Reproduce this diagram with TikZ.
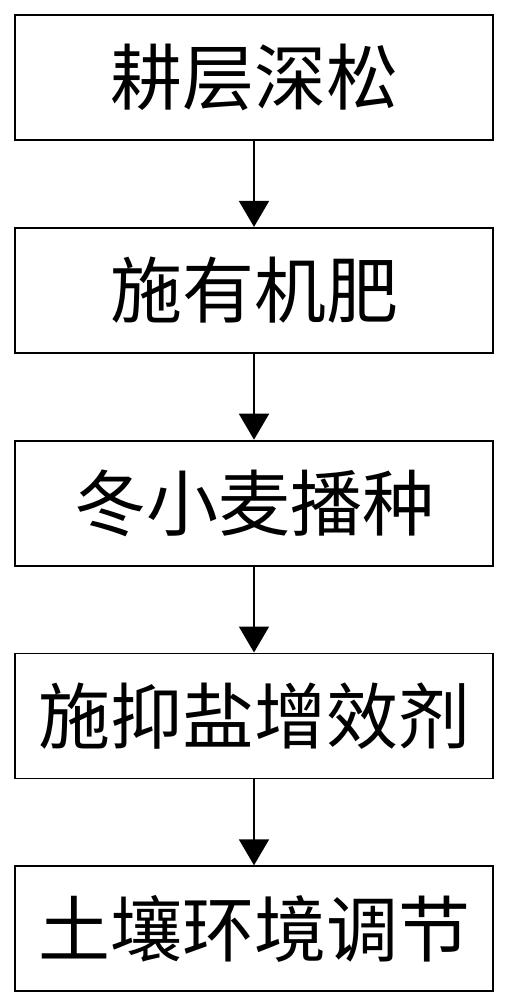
\documentclass[tikz,border=0pt]{standalone}
\usepackage{fontspec}
\newfontfamily\cjk{Noto Sans CJK SC}
\usetikzlibrary{arrows.meta,positioning}
\tikzset{
  kuang/.style={draw,line width=1.8pt,minimum width=478pt,minimum height=125pt,
    inner sep=0pt,font=\cjk\fontsize{72}{76}\selectfont},
  jian/.style={line width=1.8pt,-{Triangle[length=26pt,width=30pt]}},
}

\begin{document}
\begin{tikzpicture}[node distance=86pt]
  \useasboundingbox (0pt,0pt) rectangle (509pt,-1000pt);
  \node[kuang] (a) at (254pt,-77.5pt) {耕层深松};
  \node[kuang] (b) [below=of a] {施有机肥};
  \node[kuang] (c) [below=of b] {冬小麦播种};
  \node[kuang] (d) [below=of c] {施抑盐增效剂};
  \node[kuang] (e) [below=of d] {土壤环境调节};
  \draw[jian] (a) -- (b);
  \draw[jian] (b) -- (c);
  \draw[jian] (c) -- (d);
  \draw[jian] (d) -- (e);
\end{tikzpicture}
\end{document}
